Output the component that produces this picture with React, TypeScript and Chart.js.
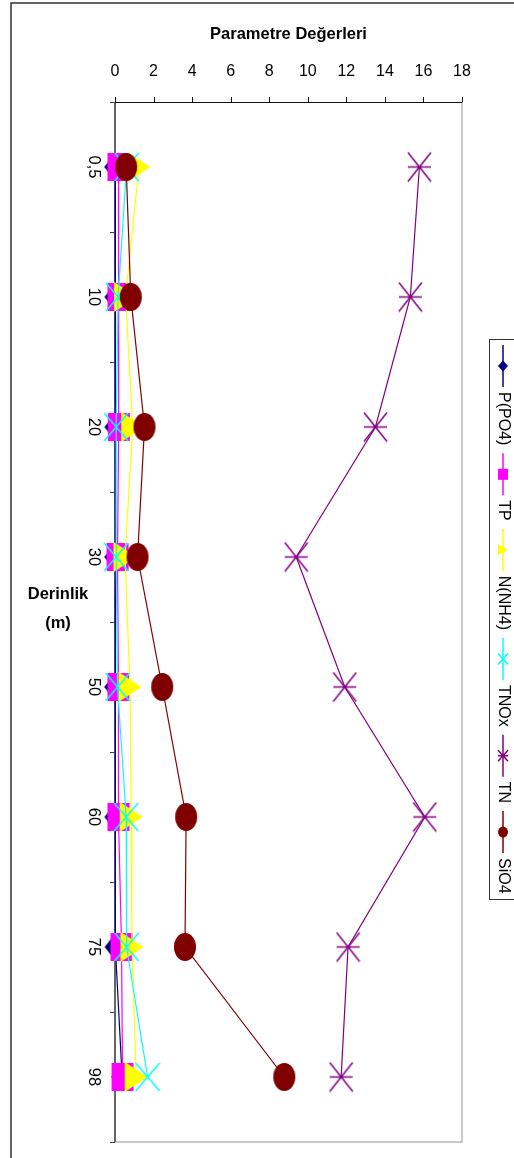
import React, { useEffect, useRef } from 'react';
import { Chart, registerables } from 'chart.js';

Chart.register(...registerables);

const depths = ['0,5', '10', '20', '30', '50', '60', '75', '98'];
const valueTicks = [0, 2, 4, 6, 8, 10, 12, 14, 16, 18];

const pPO4 = [0.01, 0.02, 0.02, 0.01, 0.01, 0.02, 0.03, 0.37];
const tp = [0.18, 0.18, 0.2, 0.13, 0.18, 0.18, 0.34, 0.39];
const nNH4 = [1.24, 0.55, 0.92, 0.52, 0.78, 0.84, 0.88, 1.1];
const tnox = [0.6, 0.16, 0.06, 0.06, 0.13, 0.58, 0.6, 1.69];
const tn = [15.79, 15.32, 13.51, 9.4, 11.92, 16.07, 12.09, 11.73];
const sio4 = [0.58, 0.82, 1.53, 1.17, 2.45, 3.69, 3.63, 8.78];

const seriesNames = ['P(PO4)', 'TP', 'N(NH4)', 'TNOx', 'TN', 'SiO4'];
const seriesData = [pPO4, tp, nNH4, tnox, tn, sio4];
const seriesColors = ['#000080', '#FF00FF', '#FFFF00', '#00FFFF', '#800080', '#800000'];
const seriesMarkers = ['diamond', 'square', 'triangle', 'cross', 'star', 'circle'];

const chartTitle = 'Parametre Değerleri';
const axisTitleLines = ['Derinlik', '(m)'];

const FONT = '"Liberation Sans", Arial, Helvetica, sans-serif';

function drawMarker(g: CanvasRenderingContext2D, kind: string, color: string, cx: number, cy: number, w: number, h: number) {
  g.save();
  g.fillStyle = color;
  g.strokeStyle = color;
  g.lineWidth = 1.5;
  const l = cx - w / 2, r = cx + w / 2, t = cy - h / 2, b = cy + h / 2;
  g.beginPath();
  if (kind === 'diamond') {
    g.moveTo(cx, t); g.lineTo(r, cy); g.lineTo(cx, b); g.lineTo(l, cy); g.closePath(); g.fill();
  } else if (kind === 'square') {
    g.fillRect(l, t, w, h);
  } else if (kind === 'triangle') {
    g.moveTo(l, t); g.lineTo(r, cy); g.lineTo(l, b); g.closePath(); g.fill();
  } else if (kind === 'cross') {
    g.moveTo(l, t); g.lineTo(r, b); g.moveTo(r, t); g.lineTo(l, b); g.stroke();
  } else if (kind === 'star') {
    g.moveTo(l, t); g.lineTo(r, b); g.moveTo(r, t); g.lineTo(l, b); g.moveTo(l, cy); g.lineTo(r, cy); g.stroke();
  } else if (kind === 'circle') {
    g.ellipse(cx, cy, w / 2, h / 2, 0, 0, Math.PI * 2); g.fill();
  }
  g.restore();
}

function makeMarker(kind: string, color: string) {
  const sizes: Record<string, [number, number]> = {
    diamond: [22, 28], square: [22, 28], triangle: [23, 30], cross: [24, 28], star: [23, 29], circle: [22, 28],
  };
  const [w, h] = sizes[kind];
  const c = document.createElement('canvas');
  c.width = w + 2; c.height = h + 2;
  const g = c.getContext('2d')!;
  drawMarker(g, kind, color, c.width / 2, c.height / 2, w, h);
  return c;
}

const decoPlugin = {
  id: 'deco',
  beforeDatasetsDraw(chart: any) {
    const { ctx, chartArea: a, scales } = chart;
    const xs = scales.x, ys = scales.y;
    ctx.save();
    // outer frame
    ctx.strokeStyle = '#333';
    ctx.lineWidth = 1.5;
    ctx.strokeRect(11, 3, 700, 1300);
    // right and bottom plot border
    ctx.strokeStyle = '#c8c8c8';
    ctx.lineWidth = 2;
    ctx.beginPath();
    ctx.moveTo(a.right, a.top); ctx.lineTo(a.right, a.bottom); ctx.lineTo(a.left, a.bottom);
    ctx.stroke();
    // left (category) axis
    ctx.strokeStyle = '#666';
    ctx.lineWidth = 2;
    ctx.beginPath(); ctx.moveTo(a.left, a.top); ctx.lineTo(a.left, a.bottom); ctx.stroke();
    ctx.lineWidth = 1;
    ctx.strokeStyle = '#444';
    for (let i = 0; i <= depths.length; i++) {
      const y = Math.round(ys.getPixelForValue(i - 0.5)) + 0.5;
      ctx.beginPath(); ctx.moveTo(a.left - 5, y); ctx.lineTo(a.left, y); ctx.stroke();
    }
    // top (value) axis
    ctx.strokeStyle = '#111';
    ctx.lineWidth = 1;
    ctx.beginPath(); ctx.moveTo(a.left, a.top + 0.5); ctx.lineTo(a.right, a.top + 0.5); ctx.stroke();
    valueTicks.forEach((v) => {
      const x = Math.round(xs.getPixelForValue(v)) + 0.5;
      ctx.beginPath(); ctx.moveTo(x, a.top - 5); ctx.lineTo(x, a.top); ctx.stroke();
    });
    ctx.restore();
  },
  afterDraw(chart: any) {
    const { ctx, chartArea: a, scales } = chart;
    const xs = scales.x, ys = scales.y;
    ctx.save();
    ctx.fillStyle = '#000';
    // title
    ctx.font = `bold 16.5px ${FONT}`;
    ctx.textAlign = 'center';
    ctx.textBaseline = 'middle';
    ctx.fillText(chartTitle, (a.left + a.right) / 2, 34);
    // value tick labels
    ctx.font = `16px ${FONT}`;
    valueTicks.forEach((v) => {
      ctx.fillText(String(v), xs.getPixelForValue(v), 72);
    });
    // category labels (rotated clockwise)
    ctx.font = `16.5px ${FONT}`;
    depths.forEach((d, i) => {
      ctx.save();
      ctx.translate(94, ys.getPixelForValue(i));
      ctx.rotate(Math.PI / 2);
      ctx.fillText(d, 0, 0);
      ctx.restore();
    });
    // axis title
    ctx.font = `bold 16.5px ${FONT}`;
    ctx.fillText(axisTitleLines[0], 58, 594);
    ctx.fillText(axisTitleLines[1], 58, 623);
    // legend
    ctx.strokeStyle = '#333';
    ctx.lineWidth = 1;
    ctx.strokeRect(489.5, 339.5, 60, 560);
    ctx.font = `16px ${FONT}`;
    ctx.textAlign = 'left';
    const lx = 503;
    let y0 = 345;
    seriesNames.forEach((name, i) => {
      ctx.strokeStyle = seriesColors[i];
      ctx.lineWidth = 1.5;
      ctx.beginPath(); ctx.moveTo(lx, y0); ctx.lineTo(lx, y0 + 42); ctx.stroke();
      drawMarker(ctx, seriesMarkers[i], seriesColors[i], lx, y0 + 21, 10, 11);
      ctx.fillStyle = '#000';
      ctx.save();
      ctx.translate(lx, y0 + 47);
      ctx.rotate(Math.PI / 2);
      ctx.fillText(name, 0, 0);
      ctx.restore();
      y0 = y0 + 47 + ctx.measureText(name).width + 8;
    });
    ctx.restore();
  },
};

export default function App() {
  const ref = useRef<HTMLCanvasElement | null>(null);
  useEffect(() => {
    if (!ref.current) return;
    const markers = seriesMarkers.map((m, i) => makeMarker(m, seriesColors[i]));
    const chart = new Chart(ref.current, {
      type: 'line',
      data: {
        labels: depths,
        datasets: seriesNames.map((name, i) => ({
          label: name,
          data: seriesData[i],
          borderColor: seriesColors[i],
          backgroundColor: seriesColors[i],
          borderWidth: 1.2,
          pointStyle: markers[i] as any,
          pointRadius: 11,
          pointHoverRadius: 11,
          order: seriesNames.length - i,
          clip: false as any,
          tension: 0,
          fill: false,
        })),
      },
      options: {
        indexAxis: 'y',
        responsive: false,
        animation: false,
        devicePixelRatio: 1,
        layout: { padding: { left: 115, right: 52, top: 102, bottom: 16 } },
        scales: {
          x: { type: 'linear', min: 0, max: 18, display: false, ticks: { stepSize: 2 } },
          y: { type: 'category', offset: true, display: false },
        },
        plugins: {
          legend: { display: false },
          tooltip: { enabled: false },
          title: { display: false },
        },
      },
      plugins: [decoPlugin],
    } as any);
    return () => chart.destroy();
  }, []);
  return (
    <div style={{ position: 'fixed', left: 0, top: 0, width: 514, height: 1158, background: '#fff' }}>
      <canvas ref={ref} width={514} height={1158} style={{ display: 'block' }} />
    </div>
  );
}
